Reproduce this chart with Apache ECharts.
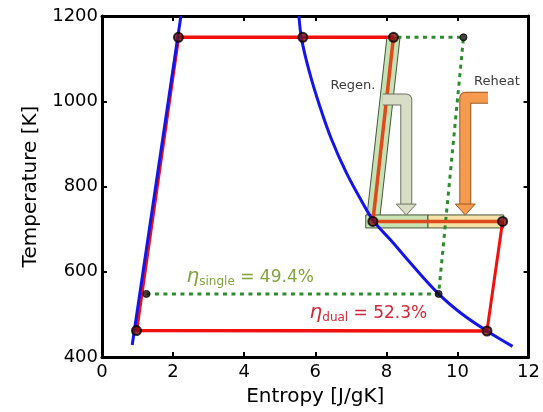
<!DOCTYPE html>
<html>
<head>
<meta charset="utf-8">
<script src="https://cdn.jsdelivr.net/npm/echarts@6/dist/echarts.min.js"></script>
<style>
  html, body { margin: 0; padding: 0; background: #fff; }
  #chart { width: 543px; height: 412px; }
</style>
</head>
<body>
<div id="chart"></div>
<script>
// axis ticks
var xTicks = [0, 2, 4, 6, 8, 10, 12]
var yTicks = [400, 600, 800, 1000, 1200]

// dual cycle (red), state points in [s, T]
var dualCold = [[10.83, 461], [0.97, 462], [2.15, 1150], [5.65, 1150], [8.2, 1150]]
var dualHeat = [[8.2, 1150], [7.62, 718], [11.27, 718]]
var dualExpand = [[11.27, 718], [10.83, 461]]
var dualPts = [[0.97, 462], [2.15, 1150], [5.65, 1150], [8.2, 1150], [7.62, 718], [11.27, 718], [10.83, 461]]

// single cycle (green dotted)
var singleCycle = [[1.25, 548], [9.47, 548], [10.17, 1150], [8.2, 1150]]
var singlePts = [[1.25, 548], [9.47, 548], [10.17, 1150]]

// saturation dome (blue)
var domeLeft = [[0.85, 428], [2.22, 1200]]
var domeRight = [[5.54, 1200], [5.62, 1144], [5.84, 1067], [6.12, 990], [6.45, 912], [6.87, 833],
  [7.29, 768], [7.65, 718], [8.17, 670], [8.61, 627], [9.47, 548], [10.11, 502], [10.83, 461], [11.55, 425]]

// highlight bands: x1, y1, x2, y2
var bands = [[8.2, 1150, 7.62, 718], [7.42, 718, 9.17, 718], [9.17, 718, 11.3, 718]]
var bandFills = ['#c6e2b5', '#c9e3b2', '#f6e2a6']

// arrows: start x, top T, shaft x, tip T
var arrows = [[7.9, 1004, 8.56, 733], [10.86, 1008, 10.22, 733]]
var arrowFills = ['#d8dec6', '#f59a4e']
var arrowEdges = ['#6f7160', '#9a5a22']

// text labels: x, T
var labels = [[7.06, 1036], [11.11, 1047], [2.38, 587], [5.84, 503]]
var labelTexts = ['Regen.', 'Reheat', '{eta|η}{sub|single}{v| = 49.4%}', '{eta|η}{sub|dual}{v| = 52.3%}']
var labelColors = ['#3a3a3a', '#3a3a3a', '#84a23e', '#d0283a']

var chart = echarts.init(document.getElementById('chart'))

var FONT = 'DejaVu Sans'

function renderBand(params, api) {
  var a = api.coord([api.value(0), api.value(1)])
  var b = api.coord([api.value(2), api.value(3)])
  var dx = b[0] - a[0], dy = b[1] - a[1]
  var len = Math.sqrt(dx * dx + dy * dy)
  var nx = -dy / len * 6.5, ny = dx / len * 6.5
  return {
    type: 'polygon',
    shape: { points: [[a[0] + nx, a[1] + ny], [b[0] + nx, b[1] + ny], [b[0] - nx, b[1] - ny], [a[0] - nx, a[1] - ny]] },
    style: { fill: bandFills[params.dataIndex], stroke: '#46563a', lineWidth: 1 }
  }
}

function renderArrow(params, api) {
  var i = params.dataIndex
  var p0 = api.coord([api.value(0), api.value(1)])
  var p1 = api.coord([api.value(2), api.value(1)])
  var tip = api.coord([api.value(2), api.value(3)])
  var base = [tip[0], tip[1] - 11]
  var pts = [p0, p1, base]
  return {
    type: 'group',
    children: [
      { type: 'polyline', shape: { points: pts }, style: { stroke: arrowEdges[i], lineWidth: 12, lineJoin: 'round', fill: null } },
      { type: 'polyline', shape: { points: pts }, style: { stroke: arrowFills[i], lineWidth: 10, lineJoin: 'round', fill: null } },
      {
        type: 'polygon',
        shape: { points: [[base[0] - 10, base[1]], [base[0] + 10, base[1]], [tip[0], tip[1]]] },
        style: { fill: arrowFills[i], stroke: arrowEdges[i], lineWidth: 1 }
      }
    ]
  }
}

function renderLabel(params, api) {
  var i = params.dataIndex
  var p = api.coord([api.value(0), api.value(1)])
  var c = labelColors[i]
  if (i < 2) {
    return {
      type: 'text', x: p[0], y: p[1],
      style: { text: labelTexts[i], fill: c, fontFamily: FONT, fontSize: 13, align: 'center', verticalAlign: 'middle' }
    }
  }
  return {
    type: 'text',
    x: p[0],
    y: p[1],
    style: {
      text: labelTexts[i],
      fill: c,
      fontFamily: FONT,
      fontSize: 17,
      align: 'left',
      verticalAlign: 'middle',
      rich: {
        eta: { fontSize: 20, fontFamily: FONT, fill: c, fontStyle: 'italic' },
        sub: { fontSize: 12, fontFamily: FONT, fill: c, padding: [10, 0, 0, 0] },
        v: { fontSize: 17, fontFamily: FONT, fill: c }
      }
    }
  }
}

function axisX(show, pos) {
  return {
    type: 'value', min: xTicks[0], max: xTicks[xTicks.length - 1], interval: 2, position: pos,
    name: show ? 'Entropy [J/gK]' : '',
    nameLocation: 'middle', nameGap: 30,
    nameTextStyle: { fontFamily: FONT, fontSize: 20, color: '#000' },
    axisLine: { show: true, onZero: false, lineStyle: { color: '#000', width: 3 } },
    axisTick: { show: true, inside: true, length: 5, lineStyle: { color: '#000', width: 2 } },
    axisLabel: { show: show, fontFamily: FONT, fontSize: 18, color: '#000', margin: 6, formatter: function (v) { return String(v) } },
    splitLine: { show: false }
  }
}

function axisY(show, pos) {
  return {
    type: 'value', min: yTicks[0], max: yTicks[yTicks.length - 1], interval: 200, position: pos,
    name: show ? 'Temperature [K]' : '',
    nameLocation: 'middle', nameGap: 58,
    nameTextStyle: { fontFamily: FONT, fontSize: 20, color: '#000' },
    axisLine: { show: true, onZero: false, lineStyle: { color: '#000', width: 3 } },
    axisTick: { show: true, inside: true, length: 5, lineStyle: { color: '#000', width: 2 } },
    axisLabel: { show: show, fontFamily: FONT, fontSize: 18, color: '#000', margin: 4, formatter: function (v) { return String(v) } },
    splitLine: { show: false }
  }
}

function line(data, color, width, type, z, smooth) {
  return {
    type: 'line', data: data, z: z, showSymbol: false, silent: true, smooth: smooth || false,
    lineStyle: { color: color, width: width, type: type || 'solid', cap: 'butt' }
  }
}

var option = {
  animation: false,
  backgroundColor: '#fff',
  grid: { left: 102, right: 8, top: 16, bottom: 55 },
  xAxis: [axisX(true, 'bottom'), axisX(false, 'top')],
  yAxis: [axisY(true, 'left'), axisY(false, 'right')],
  series: [
    { type: 'custom', renderItem: renderBand, data: bands, encode: { x: [0, 2], y: [1, 3] }, z: 1, silent: true },
    line(singleCycle, '#2e8b2e', 3, [4, 4.5], 2),
    line(dualCold, '#f01010', 3.5, 'solid', 3),
    line(dualHeat, '#de4a1c', 3.5, 'solid', 3),
    line(dualExpand, '#f01010', 3, 'solid', 3),
    { type: 'custom', renderItem: renderArrow, data: arrows, encode: { x: [0, 2], y: [1, 3] }, z: 4, silent: true },
    line(domeLeft, '#1515e8', 3, 'solid', 5),
    line(domeRight, '#1515e8', 3, 'solid', 5, 0.4),
    {
      type: 'scatter', data: singlePts, z: 6, symbolSize: 7, silent: true,
      itemStyle: { color: '#111', borderColor: '#000', borderWidth: 1 }
    },
    {
      type: 'scatter', data: dualPts, z: 7, symbolSize: 9, silent: true,
      itemStyle: { color: '#7a1212', borderColor: '#000', borderWidth: 2 }
    },
    { type: 'custom', renderItem: renderLabel, data: labels, z: 8, silent: true }
  ]
}

chart.setOption(option)
</script>
</body>
</html>
